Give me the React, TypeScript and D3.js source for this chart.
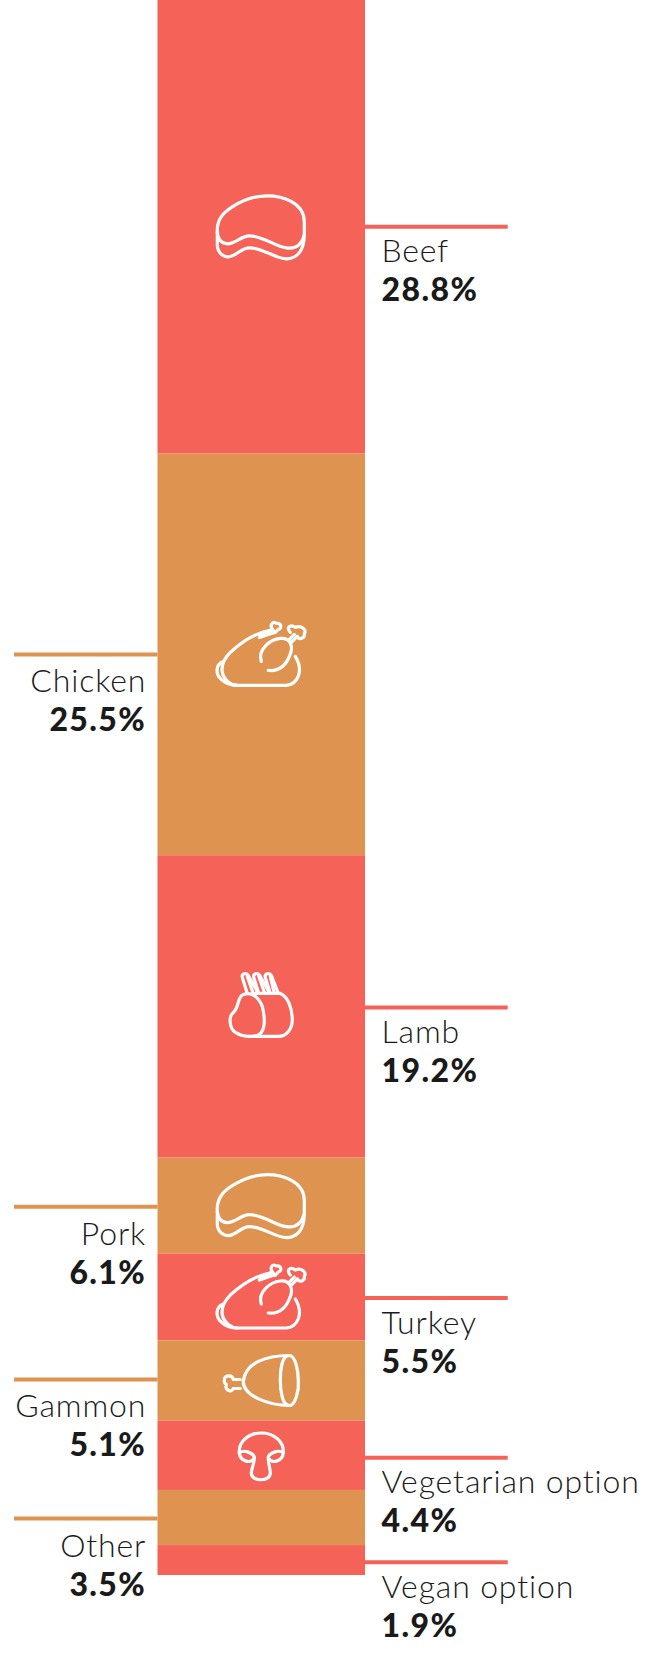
import React from "react";
import * as d3 from "d3";

const categories = ["Beef", "Chicken", "Lamb", "Pork", "Turkey", "Gammon", "Vegetarian option", "Other", "Vegan option"];
const values = [28.8, 25.5, 19.2, 6.1, 5.5, 5.1, 4.4, 3.5, 1.9];
const icons = ["steak", "poultry", "lamb", "steak", "poultry", "gammon", "mushroom", "", ""];
const leaderNudge = [0, 0, 1, 1, 1, -1, 2.4, 1, 2.3];
const iconNudge = [0, 0, -2, 0, 0, 0, 0.7, 0, 0];

const RED = "#f46258";
const ORANGE = "#de9350";
const INK = "#1a1a1a";
const FONT = "Lato, sans-serif";

const ICON_PATHS: Record<string, string[]> = {
  steak: [
    "M-44,6 C-45,-8 -37,-15 -29,-20 C-18,-27 -6,-31 6,-31 C20,-31 43,-25 43,-5 L43,8 C40,20 32,22 25,21 C14,20 2,9 -12,9 C-20,9 -26,17 -34,17 C-40,17 -44,12 -44,4",
    "M-44,6 V18 C-44,26 -38,30 -33,30 C-26,30 -20,21 -12,21 C2,21 14,32 25,32 C34,32 43,26 43,8",
  ],
  poultry: [
    "M12,-24 C-2,-23 -16,-16 -31,-2 C-38,5 -40,12 -39,18 C-37,26 -30,31 -24,31 H25 C36,30 43,17 34,2",
    "M-38,7 C-46,10 -46,20 -40,25 C-36,29 -30,31 -24,31",
    "M0,7 C-4,-5 9,-15 19,-16 C29,-17 33,-8 28,2 C24,12 17,17 7,16",
    "M-2,-20 L11,-25 M-2,-17 C4,-19 9,-21 14,-22",
    "M11,-25 C8,-30 12,-34 15,-31 C20,-32 21,-26 17,-25 C15,-23 14,-22 14,-22",
    "M27,-14 L33,-20 M30,-12 L36,-18",
    "M29,-22 C24,-28 30,-30 34,-27 C40,-30 46,-24 43,-21 C44,-16 38,-14 36,-18",
  ],
  lamb: [
    "M-18,-10 C-24,-8 -22,3 -28,8 C-33,12 -32,24 -26,28 C-18,33 -8,33 -2,30 C4,26 4,14 1,2 C-3,-8 -10,-13 -18,-10 Z",
    "M-6,-11 H19 C27,-8 31,5 31,15 C31,26 24,32 17,32 H-13",
    "M-14,-11 L-19,-27 C-20,-31 -15,-32 -13,-29 L-3,-11",
    "M-8,-11 L-14,-28",
    "M-2.5,-11 L-7.5,-27 C-8.5,-31 -3.5,-32 -1.5,-29 L8.5,-11",
    "M3.5,-11 L-2.5,-28",
    "M9,-11 L4,-27 C3,-31 8,-32 10,-29 L17,-11",
    "M13,-11 L9,-28",
  ],
  gammon: [
    "M28,-25 C5,-25 -16,-18 -18,1 C-18,16 9,25 28,25",
    "M28,-25 C20,-25 19,-8 19,0 C19,10 21,25 28,25 C34,25 38,10 37,0 C37,-10 34,-25 28,-25 Z",
    "M-21,-1 H-28 C-29,-6 -37,-6 -37,0 C-37,3 -35,4 -35,4 C-37,9 -30,13 -28,8 H-21",
  ],
  mushroom: [
    "M-22,-3 C-23,-15 -12,-23 0,-23 C12,-23 23,-15 22,-3 C21,6 10,8 7,2 C7,-3 18,-7 22,-3",
    "M-22,-3 C-21,6 -10,8 -7,2 C-7,-3 -18,-7 -22,-3",
    "M-7,2 C-7,9 -10,12 -10,17 C-10,26 9,26 9,17 C9,12 7,9 7,2",
  ],
};

const y = d3.scaleLinear().domain([0, 100]).range([0, 1575]);
const stack = d3.cumsum(values);

export default function App() {
  const left = 157.5, right = 365;
  const cx = 261.3;
  return (
    <svg width={652} height={1671} style={{ position: "absolute", left: 0, top: 0, display: "block" }} fontFamily={FONT}>
      {values.map((v, i) => {
        const y0 = y(stack[i] - v);
        const y1 = y(stack[i]);
        const mid = (y0 + y1) / 2;
        const lineY = mid + leaderNudge[i];
        const color = i % 2 === 0 ? RED : ORANGE;
        const isRight = i % 2 === 0;
        const tx = isRight ? 381.5 : 146.2;
        const dyName = isRight ? 35.5 : 38;
        const dyValue = isRight ? 74.5 : 77;
        return (
          <g key={categories[i]}>
            <rect x={left} y={y0} width={right - left} height={y1 - y0} fill={color} />
            <line x1={isRight ? right : 14} x2={isRight ? 507.7 : left} y1={lineY} y2={lineY} stroke={color} strokeWidth={4} />
            <text x={tx} y={lineY + dyName} textAnchor={isRight ? "start" : "end"} fontSize={32} fontWeight={300} letterSpacing={0.85} fill={INK}>{categories[i]}</text>
            <text x={tx} y={lineY + dyValue} textAnchor={isRight ? "start" : "end"} fontSize={32} fontWeight={900} letterSpacing={1.4} fill={INK}>{v.toFixed(1)}%</text>
            {icons[i] && (
              <g transform={`translate(${cx},${mid + iconNudge[i]})`} fill="none" stroke="#fff" strokeWidth={3.2} strokeLinecap="round" strokeLinejoin="round">
                {ICON_PATHS[icons[i]].map((d, k) => <path key={k} d={d} />)}
              </g>
            )}
          </g>
        );
      })}
    </svg>
  );
}
